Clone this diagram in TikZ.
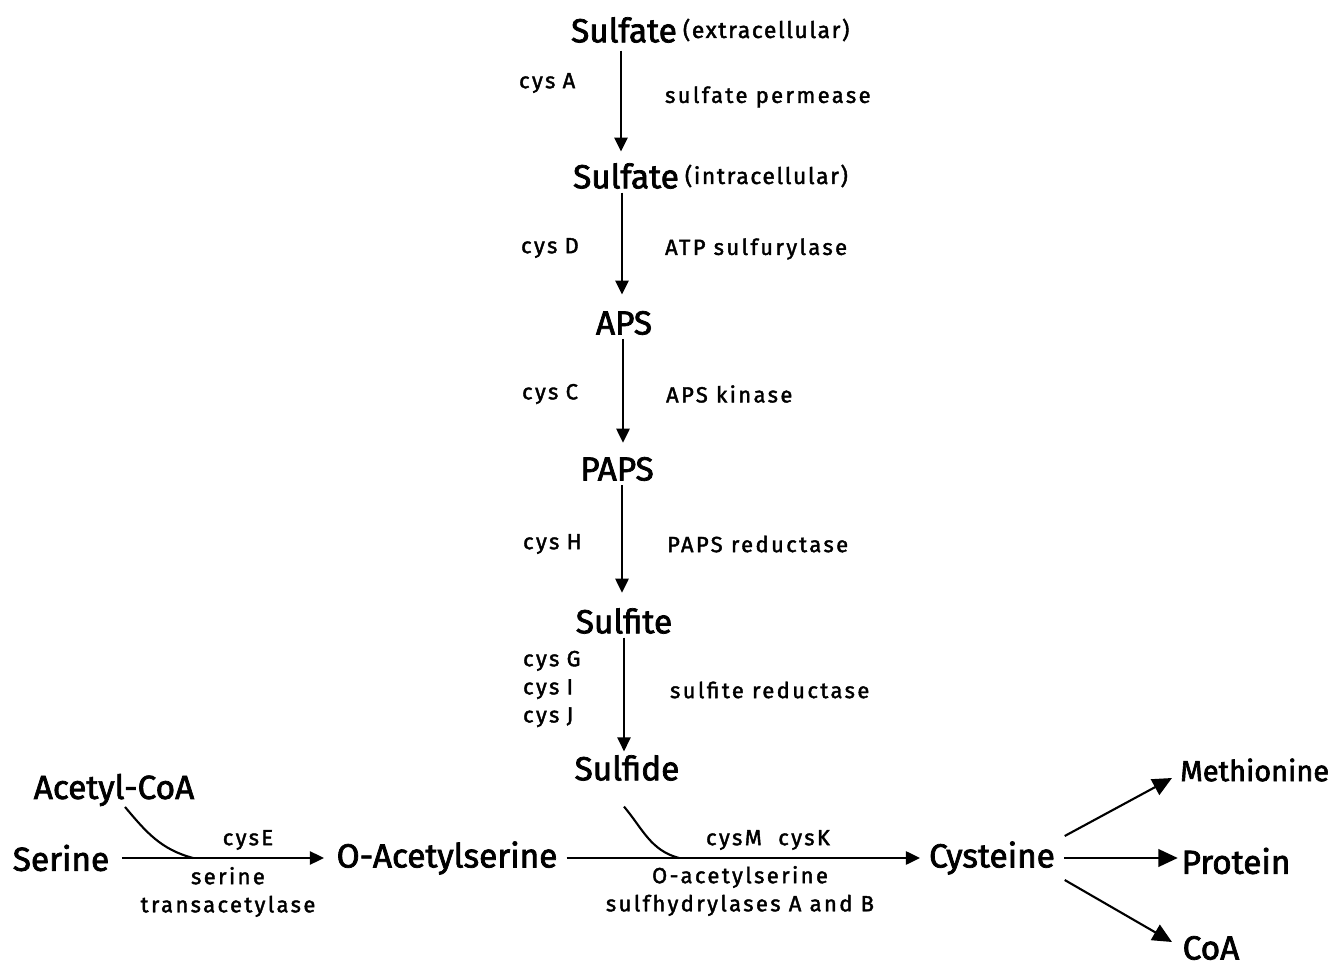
\documentclass[tikz,border=0pt]{standalone}
\usepackage{fontspec}
\setmainfont{Fira Sans}[FakeBold=2.2]
\newfontfamily\enzfont{Fira Sans}[LetterSpace=11, FakeBold=1.8]
\newfontfamily\placefont{Fira Sans}[LetterSpace=7, FakeBold=1.8]
\usetikzlibrary{arrows.meta}

\tikzset{
  metab/.style={font=\fontsize{19}{22}\selectfont, inner sep=2pt},
  place/.style={font=\placefont\fontsize{13}{15}\selectfont, inner sep=1pt},
  enz/.style={font=\enzfont\fontsize{12.5}{16}\selectfont, inner sep=1pt, align=center},
  flow/.style={-{Triangle[length=8pt,width=7.5pt]}, line width=1.2pt},
  branch/.style={-{Triangle[length=11pt,width=10pt]}, line width=1.2pt},
  joinline/.style={line width=1.2pt},
}

\begin{document}
\begin{tikzpicture}[x=0.02cm, y=-0.02cm]
  \useasboundingbox (0,0) rectangle (1333,969);

  % Sulfur assimilation
  \node (sext) [metab] at (624,30) {Sulfate};
  \node (sextp) [place, anchor=west] at (sext.east) {(extracellular)};
  \node (sint) [metab] at (626,176) {Sulfate};
  \node (sintp) [place, anchor=west] at (sint.east) {(intracellular)};
  \node (aps) [metab] at (624,323) {APS};
  \node (paps) [metab] at (617,469) {PAPS};
  \node (sulfite) [metab] at (624,621) {Sulfite};
  \node (sulfide) [metab] at (627,768) {Sulfide};

  % Genes and enzymes
  \node (cysA) [enz, anchor=west] at (517,83) {cys\,\,A};
  \node (perm) [enz, anchor=west] at (663,97) {sulfate permease};
  \node (cysD) [enz, anchor=west] at (519,248) {cys\,\,D};
  \node (atps) [enz, anchor=west] at (663,249) {ATP sulfurylase};
  \node (cysC) [enz, anchor=west] at (520,394) {cys\,\,C};
  \node (apsk) [enz, anchor=west] at (664,394) {APS kinase};
  \node (cysH) [enz, anchor=west] at (521,544) {cys\,\,H};
  \node (papsr) [enz, anchor=west] at (665,544) {PAPS reductase};
  \node (cysGIJ) [enz, anchor=west, align=left] at (521,689) {cys\,\,G\\cys\,\,I\\cys\,\,J};
  \node (sred) [enz, anchor=west] at (668,690) {sulfite reductase};

  % Cysteine synthesis
  \node (acoa) [metab] at (114,790) {Acetyl-CoA};
  \node (serine) [metab] at (61,858) {Serine};
  \node (oas) [metab] at (447,858) {O-Acetylserine};
  \node (cys) [metab] at (992,858) {Cysteine};
  \node (met) [metab, anchor=east, font=\fontsize{16.5}{20}\selectfont] at (1333,770) {Methionine};
  \node (prot) [metab] at (1236,861) {Protein};
  \node (coa) [metab] at (1211,948) {CoA};

  \node (cysE) [enz] at (248,840) {cysE};
  \node (sat) [enz] at (228,892) {serine\\transacetylase};
  \node (cysMK) [enz] at (768,840) {cysM\ \ cysK};
  \node (oass) [enz] at (740,891) {O-acetylserine\\sulfhydrylases A and B};

  \coordinate (satjoin) at (193,858);
  \coordinate (oassjoin) at (679,858);
  \coordinate (metin) at (1172,778);
  \coordinate (coain) at (1172,942);

  % Vertical chain
  \draw[flow] (sext.south) ++(-3,4) -- ++(0,101);
  \draw[flow] (sint.south) ++(-4,0) -- ++(0,102);
  \draw[flow] (aps.south) ++(-1,0) -- ++(0,104);
  \draw[flow] (paps.south) ++(5,0) -- ++(0,108);
  \draw[flow] (sulfite.south) -- (sulfide.north -| sulfite.south);

  % Horizontal chain
  \draw[flow, shorten <=5pt, shorten >=5pt] (serine.east) -- (oas.west);
  \draw[flow, shorten <=3pt, shorten >=3pt] (oas.east) -- (cys.west);
  \draw[joinline] (acoa.south) ++(11,-3) to[out=-50, in=165] (satjoin);
  \draw[joinline] (sulfide.south) ++(-3,22) to[out=-50, in=165] (oassjoin);

  % Products
  \draw[branch] (cys.east) ++(6,-22) -- (metin);
  \draw[branch, shorten <=3pt] (cys.east) -- (cys.east -| prot.west);
  \draw[branch] (cys.east) ++(6,22) -- (coain);
\end{tikzpicture}
\end{document}
